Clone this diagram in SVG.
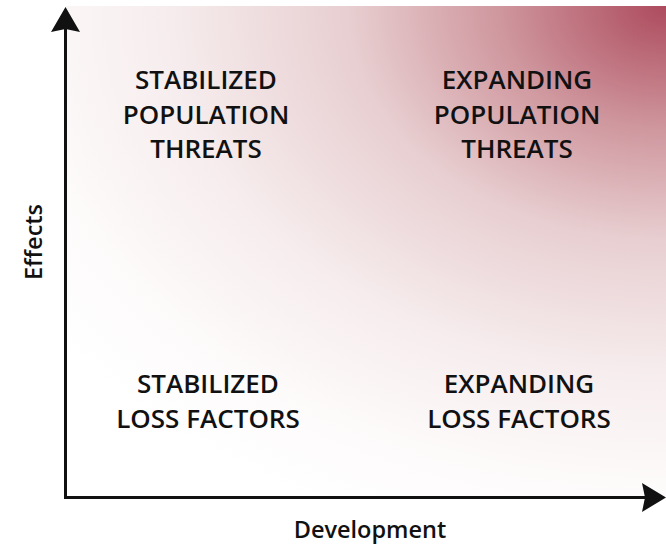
<svg xmlns="http://www.w3.org/2000/svg" width="666" height="548" viewBox="0 0 666 548">
<defs>
<radialGradient id="bg" gradientUnits="userSpaceOnUse" cx="0" cy="0" r="1" gradientTransform="translate(666,6) scale(760,560)">
<stop offset="0" stop-color="#ad4b5d"/>
<stop offset="0.22" stop-color="#cf979e"/>
<stop offset="0.42" stop-color="#e8cfd1"/>
<stop offset="0.65" stop-color="#f6eced"/>
<stop offset="0.85" stop-color="#fdfafa"/>
<stop offset="1" stop-color="#ffffff"/>
</radialGradient>
<style>
.lbl{font-family:"Open Sans","Liberation Sans",sans-serif;font-weight:600;font-size:26px;fill:#111;text-anchor:middle}
.ax{font-family:"Open Sans","Liberation Sans",sans-serif;font-weight:600;font-size:23.5px;fill:#111;text-anchor:middle}
.axis{stroke:#111;stroke-width:3;fill:none}
.head{fill:#111}
</style>
</defs>
<rect x="66" y="6" width="600" height="491" fill="url(#bg)"/>
<g id="connectors">
<line class="axis" x1="65.5" y1="28" x2="65.5" y2="499"/>
<path class="head" d="M65.5,7 L80,32 L65.5,29 L51,32 Z"/>
<line class="axis" x1="64" y1="497.5" x2="646" y2="497.5"/>
<path class="head" d="M666,497.5 L642,512 L645,497.5 L642,483 Z"/>
</g>
<g id="stabilized-population-threats">
<text class="lbl" x="206" y="89">STABILIZED</text>
<text class="lbl" x="206" y="123.5">POPULATION</text>
<text class="lbl" x="206" y="158">THREATS</text>
</g>
<g id="expanding-population-threats">
<text class="lbl" x="517" y="89">EXPANDING</text>
<text class="lbl" x="517" y="123.5">POPULATION</text>
<text class="lbl" x="517" y="158">THREATS</text>
</g>
<g id="stabilized-loss-factors">
<text class="lbl" x="208" y="393">STABILIZED</text>
<text class="lbl" x="208" y="428">LOSS FACTORS</text>
</g>
<g id="expanding-loss-factors">
<text class="lbl" x="519" y="393">EXPANDING</text>
<text class="lbl" x="519" y="428">LOSS FACTORS</text>
</g>
<g id="axis-labels">
<text class="ax" x="370" y="538">Development</text>
<text class="ax" transform="translate(42,242) rotate(-90)" x="0" y="0">Effects</text>
</g>
</svg>
